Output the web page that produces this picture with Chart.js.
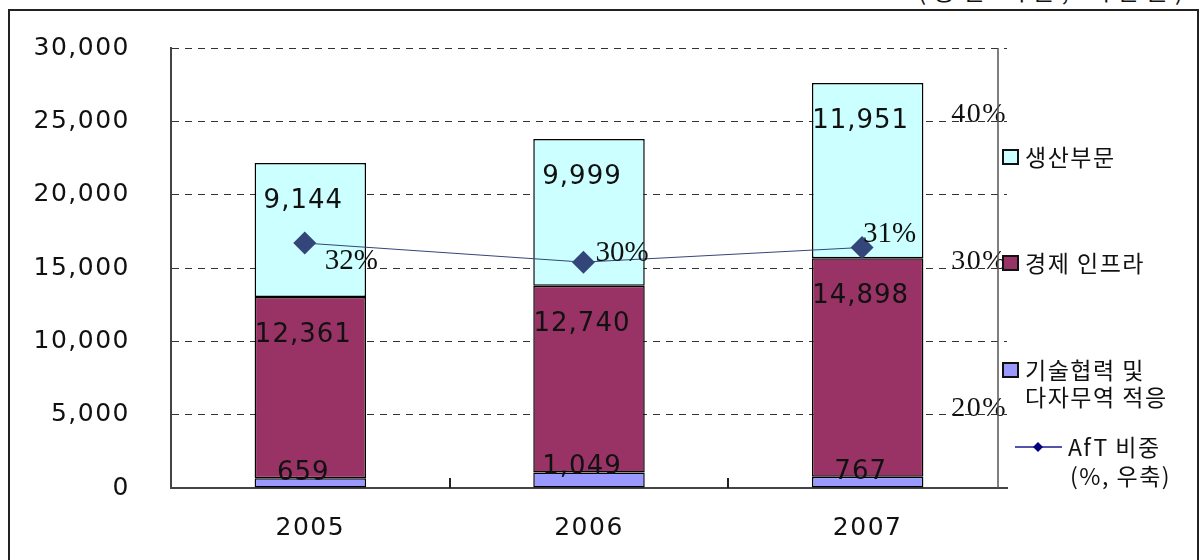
<!DOCTYPE html>
<html>
<head>
<meta charset="utf-8">
<script src="https://cdn.jsdelivr.net/npm/chart.js@4/dist/chart.umd.min.js"></script>
<style>
html,body{margin:0;padding:0;background:#fff;overflow:hidden;width:1200px;height:560px;}
#wrap{position:relative;width:1200px;height:560px;overflow:hidden;}
#frame{position:absolute;left:8px;top:9px;width:1187px;height:600px;border:2px solid #222;}
#unit{position:absolute;left:918px;top:-22px;font-family:'Noto Sans CJK KR';font-size:24px;letter-spacing:7px;white-space:nowrap;color:#111;line-height:24px;}
#chart{position:absolute;left:0;top:0;}
.lg{position:absolute;font-family:'Noto Sans CJK KR';font-size:23px;letter-spacing:1.5px;color:#111;white-space:nowrap;line-height:27px;}
.sw{position:absolute;width:13px;height:12px;border:2px solid #111;}
</style>
</head>
<body>
<div id="wrap">
  <div id="frame"></div>
  <div id="unit"></div>
  <canvas id="chart" width="1200" height="560"></canvas>
</div>
<script>
// ---- data ----
const categories = ['2005', '2006', '2007'];
const techTradeValues = [659, 1049, 767];
const econInfraValues = [12361, 12740, 14898];
const productionValues = [9144, 9999, 11951];
const aftShareValues = [31.7, 30.4, 31.4];
const leftTickValues = [0, 5000, 10000, 15000, 20000, 25000, 30000];
const rightTickValues = [20, 30, 40];
const seriesNames = ['기술협력 및\n다자무역 적응', '경제 인프라', '생산부문', 'AfT 비중\n(%, 우축)'];
const unitText = '(승인 기준, 백만불)';

// ---- styles ----
const colors = ['#9999FF', '#993366', '#CCFFFF'];
const lineColor = '#34457A';
const numFont = '"DejaVu Sans"';
const serifFont = '"Liberation Serif"';

document.getElementById('unit').textContent = unitText;

const labelPlugin = {
  id: 'customLabels',
  beforeDraw(chart) { chart.ctx.letterSpacing = '1.5px'; },
  afterDatasetsDraw(chart) {
    const ctx = chart.ctx;
    ctx.save();
    ctx.letterSpacing = '1px';
    ctx.font = '26px ' + numFont;
    ctx.fillStyle = '#111';
    ctx.textAlign = 'center';
    ctx.textBaseline = 'middle';
    chart.data.datasets.forEach((ds, di) => {
      if (ds.type === 'line') return;
      const meta = chart.getDatasetMeta(di);
      meta.data.forEach((el, i) => {
        const y = di === 0 ? el.y - 5 : el.y + 38.5;
        ctx.fillText(ds.data[i].toLocaleString('en-US'), el.x - 7, y);
      });
    });
    // percentage labels
    const offs = chart.options.plugins.customLabels.pctOffsets;
    ctx.font = '29px ' + serifFont;
    ctx.letterSpacing = '0px';
    ctx.textAlign = 'left';
    chart.data.datasets.forEach((ds, di) => {
      if (ds.type !== 'line') return;
      const meta = chart.getDatasetMeta(di);
      meta.data.forEach((el, i) => {
        ctx.fillText(Math.round(ds.data[i].y) + '%', el.x + offs[i][0], el.y + offs[i][1]);
      });
    });
    ctx.restore();
  },
  afterDraw(chart) {
    const ctx = chart.ctx;
    const a = chart.chartArea;
    const xs = chart.scales.x;
    ctx.save();
    ctx.strokeStyle = '#222';
    ctx.lineWidth = 2;
    for (let i = 0; i < categories.length - 1; i++) {
      const px = Math.round(xs.getPixelForValue(i + 0.5));
      ctx.beginPath();
      ctx.moveTo(px, a.bottom);
      ctx.lineTo(px, a.bottom - 10);
      ctx.stroke();
    }
    ctx.strokeStyle = '#555';
    ctx.lineWidth = 1.5;
    const rx = a.right - 9;
    ctx.beginPath();
    ctx.moveTo(rx, a.top);
    ctx.lineTo(rx, a.bottom);
    ctx.stroke();
    ctx.restore();
    chart.ctx.letterSpacing = '0px';
  }
};

const barCommon = {
  type: 'bar', stack: 's', yAxisID: 'y', xAxisID: 'x', borderColor: '#000', borderWidth: 1.5,
  borderSkipped: false, barPercentage: 0.4, categoryPercentage: 1, grouped: false, order: 1
};

const noVPad = s => { s.paddingTop = 0; s.paddingBottom = 0; };

new Chart(document.getElementById('chart'), {
  data: {
    labels: categories,
    datasets: [
      Object.assign({}, barCommon, {label: seriesNames[0].replace('\n', ' '), data: techTradeValues, backgroundColor: colors[0]}),
      Object.assign({}, barCommon, {label: seriesNames[1], data: econInfraValues, backgroundColor: colors[1]}),
      Object.assign({}, barCommon, {label: seriesNames[2], data: productionValues, backgroundColor: colors[2]}),
      {
        type: 'line', label: seriesNames[3].replace('\n', ' '),
        data: aftShareValues.map((v, i) => ({x: i, y: v})),
        xAxisID: 'x2', yAxisID: 'y2', order: 0,
        borderColor: lineColor, borderWidth: 1, tension: 0,
        pointStyle: 'rectRot', pointRadius: 11.5, pointHoverRadius: 11.5,
        pointBackgroundColor: lineColor, pointBorderColor: lineColor, pointBorderWidth: 0
      }
    ]
  },
  options: {
    responsive: false,
    animation: false,
    devicePixelRatio: 1,
    layout: {padding: {top: 48, left: 0, right: 0, bottom: 0}},
    plugins: {
      legend: {display: false},
      tooltip: {enabled: false},
      customLabels: {pctOffsets: [[20, 18], [12, -9], [1, -13]]}
    },
    scales: {
      x: {
        type: 'category', stacked: true, offset: true,
        grid: {display: false, drawTicks: false},
        border: {color: '#444', width: 2},
        ticks: {color: '#111', padding: 25, font: {family: 'DejaVu Sans', size: 25}},
        afterFit: s => { s.height = 72; }
      },
      x2: {
        type: 'linear', display: false, min: -0.48, max: 2.52
      },
      y: {
        stacked: true, min: 0, max: 30000,
        afterBuildTicks: s => { s.ticks = leftTickValues.map(v => ({value: v})); },
        ticks: {color: '#111', padding: 41, font: {family: 'DejaVu Sans', size: 25},
                callback: v => v.toLocaleString('en-US')},
        grid: {color: '#333', lineWidth: 1, drawTicks: false},
        border: {color: '#444', width: 2, dash: [7, 6]},
        afterFit: s => { s.width = 171; noVPad(s); }
      },
      y2: {
        position: 'right', min: 15, max: 45,
        afterBuildTicks: s => { s.ticks = rightTickValues.map(v => ({value: v})); },
        grid: {display: false, drawTicks: false},
        border: {display: false},
        ticks: {mirror: true, padding: 0, color: '#111',
                font: {family: 'Liberation Serif', size: 28, lineHeight: 0.45},
                callback: v => [v + '%', '']},
        afterFit: s => { s.width = 193; noVPad(s); }
      }
    }
  },
  plugins: [labelPlugin]
});

// ---- HTML legend ----
const wrap = document.getElementById('wrap');
const legendLayout = [
  {series: 2, kind: 'box', cy: 157},
  {series: 1, kind: 'box', cy: 263},
  {series: 0, kind: 'box', cy: 370},
  {series: 3, kind: 'line', cy: 447}
];
legendLayout.forEach(item => {
  const lines = seriesNames[item.series].split('\n');
  if (item.kind === 'box') {
    const sw = document.createElement('div');
    sw.className = 'sw';
    sw.style.left = '1002px';
    sw.style.top = (item.cy - 8) + 'px';
    sw.style.background = colors[item.series];
    wrap.appendChild(sw);
    lines.forEach((t, k) => {
      const d = document.createElement('div');
      d.className = 'lg';
      d.style.left = '1025px';
      d.style.top = (item.cy - 14 + k * 27) + 'px';
      d.textContent = t;
      wrap.appendChild(d);
    });
  } else {
    const ns = 'http://www.w3.org/2000/svg';
    const svg = document.createElementNS(ns, 'svg');
    svg.setAttribute('width', '54'); svg.setAttribute('height', '20');
    svg.style.position = 'absolute'; svg.style.left = '1012px'; svg.style.top = (item.cy - 10) + 'px';
    const ln = document.createElementNS(ns, 'line');
    ln.setAttribute('x1', '3'); ln.setAttribute('y1', '10'); ln.setAttribute('x2', '50'); ln.setAttribute('y2', '10');
    ln.setAttribute('stroke', '#1A1A8C'); ln.setAttribute('stroke-width', '1.5');
    const pg = document.createElementNS(ns, 'polygon');
    pg.setAttribute('points', '26,5 31,10 26,15 21,10');
    pg.setAttribute('fill', '#000080');
    svg.appendChild(ln); svg.appendChild(pg);
    wrap.appendChild(svg);
    lines.forEach((t, k) => {
      const d = document.createElement('div');
      d.className = 'lg';
      d.style.left = (1068 + k * 2) + 'px';
      d.style.top = (item.cy - 14 + k * 29) + 'px';
      d.textContent = t;
      wrap.appendChild(d);
    });
  }
});
</script>
</body>
</html>
